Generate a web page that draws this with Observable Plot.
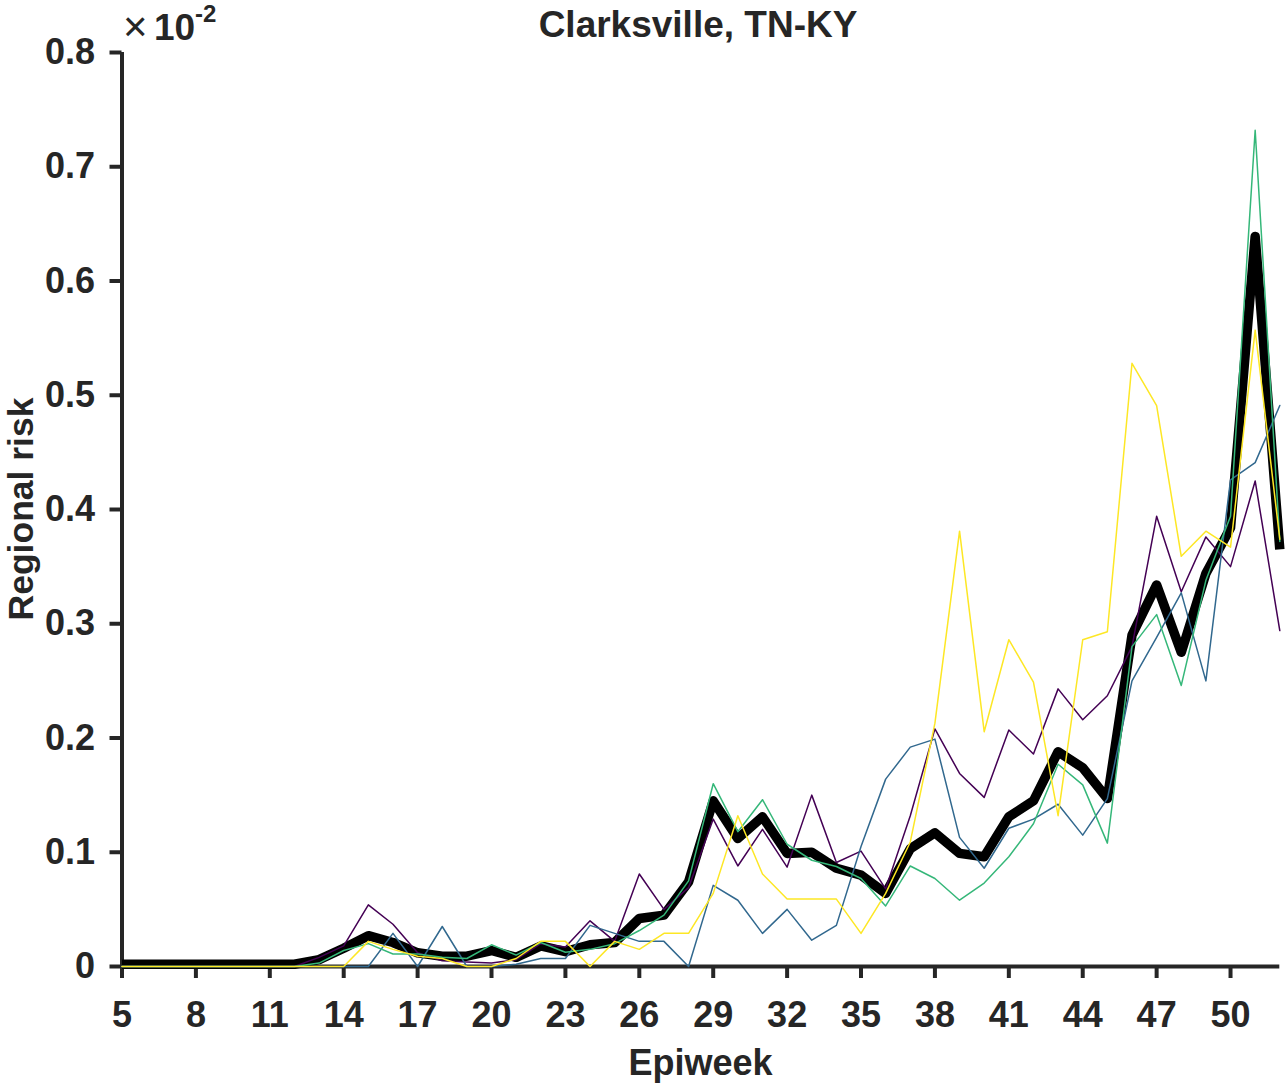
<!DOCTYPE html>
<html>
<head>
<meta charset="utf-8">
<script src="https://cdn.jsdelivr.net/npm/d3@7"></script>
<script src="https://cdn.jsdelivr.net/npm/@observablehq/plot@0.6"></script>
<style>
  html, body { margin: 0; padding: 0; background: #fff; }
  #chart svg { display: block; }
</style>
</head>
<body>
<div id="chart"></div>
<script>
// Epiweeks 5..52
const weeks = [5,6,7,8,9,10,11,12,13,14,15,16,17,18,19,20,21,22,23,24,25,26,27,28,
               29,30,31,32,33,34,35,36,37,38,39,40,41,42,43,44,45,46,47,48,49,50,51,52];

// Regional risk (x 10^-2)
const riskBlack = [0.002,0.002,0.002,0.002,0.002,0.002,0.002,0.002,0.006,0.016,0.027,0.021,0.012,0.009,0.009,0.014,
                   0.008,0.018,0.013,0.019,0.021,0.042,0.045,0.074,0.145,0.112,0.131,0.099,0.100,0.086,0.080,0.064,
                   0.103,0.117,0.099,0.096,0.131,0.145,0.188,0.174,0.147,0.290,0.334,0.275,0.344,0.384,0.639,0.365];
const riskPurple = [0,0,0,0,0,0,0,0,0.008,0.018,0.054,0.037,0.012,0.005,0.004,0.003,
                    0.006,0.020,0.017,0.040,0.022,0.081,0.050,0.069,0.129,0.088,0.120,0.087,0.150,0.091,0.101,0.068,
                    0.132,0.208,0.169,0.148,0.207,0.186,0.243,0.216,0.237,0.280,0.394,0.328,0.376,0.350,0.425,0.294];
const riskBlue = [0,0,0,0,0,0,0,0,0,0,0,0.029,0,0.035,0,0,
                  0.002,0.007,0.007,0.036,0.029,0.022,0.022,0,0.071,0.058,0.029,0.050,0.023,0.036,0.105,0.164,
                  0.192,0.199,0.113,0.086,0.121,0.129,0.142,0.115,0.147,0.250,0.288,0.327,0.250,0.426,0.441,0.491];
const riskGreen = [0,0,0,0,0,0,0,0,0.003,0.014,0.020,0.011,0.011,0.008,0.007,0.019,
                   0.010,0.021,0.0125,0.015,0.020,0.0315,0.045,0.075,0.160,0.118,0.146,0.107,0.093,0.0875,0.077,0.053,
                   0.088,0.077,0.058,0.073,0.096,0.125,0.177,0.159,0.108,0.280,0.308,0.246,0.338,0.394,0.732,0.372];
const riskYellow = [0,0,0,0,0,0,0,0,0,0,0.022,0.015,0.009,0.007,0,0,
                    0.007,0.022,0.022,0,0.022,0.015,0.029,0.029,0.064,0.132,0.081,0.059,0.059,0.059,0.029,0.064,
                    0.109,0.213,0.381,0.2055,0.286,0.249,0.132,0.286,0.293,0.528,0.491,0.359,0.381,0.367,0.557,0.374];

const xTicks = [5,8,11,14,17,20,23,26,29,32,35,38,41,44,47,50];
const yTicks = [0,0.1,0.2,0.3,0.4,0.5,0.6,0.7,0.8];

const titleText = "Clarksville, TN-KY";
const xLabel = "Epiweek";
const yLabel = "Regional risk";

const toRows = (vals) => weeks.map((w, i) => ({week: w, risk: vals[i]}));

const colored = [
  {vals: riskPurple, color: "#440154"},
  {vals: riskBlue, color: "#31688e"},
  {vals: riskGreen, color: "#35b779"},
  {vals: riskYellow, color: "#fde725"}
];

const axisColor = "#262626";
const fontFamily = "'Liberation Sans', Arial, Helvetica, sans-serif";

const chart = Plot.plot({
  width: 1288,
  height: 1086,
  marginLeft: 121.5,
  marginRight: 8.7,
  marginTop: 52,
  marginBottom: 120,
  style: {fontFamily, fontSize: "36px", fontWeight: "bold", color: axisColor, background: "#fff"},
  x: {domain: [5, 52], label: null},
  y: {domain: [0, 0.8], label: null},
  marks: [
    Plot.ruleY([0], {x1: 5, x2: 52, stroke: axisColor, strokeWidth: 4}),
    Plot.ruleX([5], {y1: 0, y2: 0.8, stroke: axisColor, strokeWidth: 4}),
    Plot.axisX({ticks: xTicks, tickSize: 12, tickPadding: 23, strokeWidth: 4, stroke: axisColor, fill: axisColor,
                tickFormat: d => String(d), label: null}),
    Plot.axisY({ticks: yTicks, tickSize: 12, tickPadding: 15, strokeWidth: 4, stroke: axisColor, fill: axisColor,
                tickFormat: d => d === 0 ? "0" : d.toFixed(1), label: null}),
    Plot.lineY(toRows(riskBlack), {x: "week", y: "risk", stroke: "#000", strokeWidth: 9.5,
                                   strokeLinejoin: "round", strokeLinecap: "butt"}),
    ...colored.map(s => Plot.lineY(toRows(s.vals), {x: "week", y: "risk", stroke: s.color, strokeWidth: 1.5,
                                                     strokeLinejoin: "round"}))
  ]
});

document.getElementById("chart").appendChild(chart);

const svg = d3.select(chart);
const txt = (x, y, s, size, weight, anchor) => svg.append("text")
  .attr("x", x).attr("y", y).attr("fill", axisColor)
  .attr("font-family", fontFamily).attr("font-size", size).attr("font-weight", weight)
  .attr("text-anchor", anchor).text(s);

txt(698, 37, titleText, 37, "bold", "middle");
txt(700.5, 1075, xLabel, 36, "bold", "middle");
svg.append("text")
  .attr("transform", "translate(33,509) rotate(-90)")
  .attr("fill", axisColor).attr("font-family", fontFamily).attr("font-size", 35.5).attr("font-weight", "bold")
  .attr("text-anchor", "middle").text(yLabel);

// scale factor  x10^-2
txt(123, 41, "×", 42, "normal", "start");
txt(154, 40, "10", 37, "bold", "start");
txt(195, 22, "-2", 24, "bold", "start");
</script>
</body>
</html>
